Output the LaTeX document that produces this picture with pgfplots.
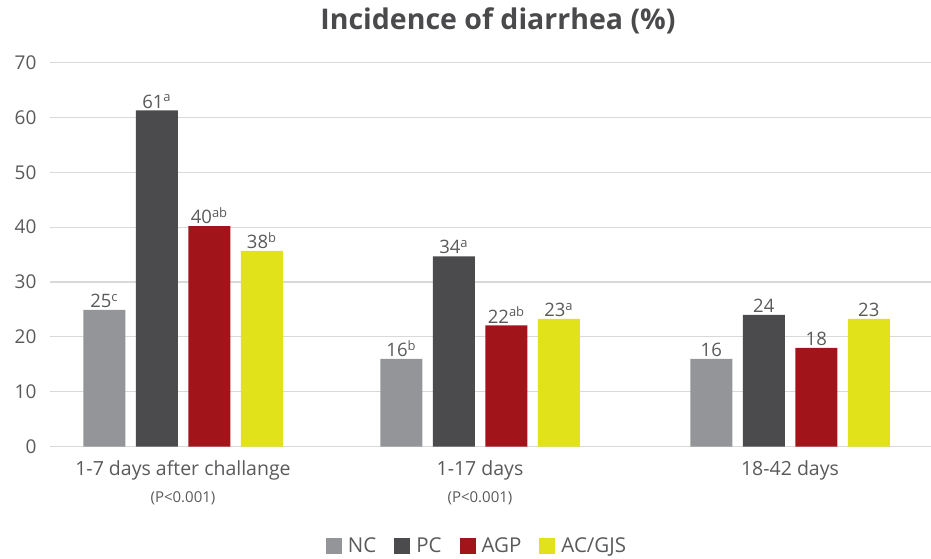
\documentclass[border=0pt]{standalone}
\usepackage{pgfplots}
\pgfplotsset{compat=1.18}
\usepackage{fontspec}
\setmainfont{Open Sans}
\definecolor{cNC}{HTML}{939598}
\definecolor{cPC}{HTML}{4B4B4D}
\definecolor{cAGP}{HTML}{A11419}
\definecolor{cAC}{HTML}{E1E219}
\definecolor{txt}{HTML}{595A5C}
\definecolor{ttl}{HTML}{4A4A4C}
\definecolor{gridc}{HTML}{D9D9D9}
\newcommand{\pfont}{\fontsize{15}{17}\selectfont}
\begin{document}
\begin{tikzpicture}
\useasboundingbox (0,0) rectangle (931pt,-559pt);
\begin{axis}[
 at={(50pt,-446.5pt)}, anchor=south west,
 scale only axis, width=881pt, height=383.8pt,
 xmin=50, xmax=931, ymin=0, ymax=70,
 ybar=10.5pt, bar width=42pt,
 ytick={0,10,...,70},
 ymajorgrids, grid style={gridc, line width=1.3pt},
 axis line style={draw=none},
 major tick length=0pt,
 xtick={183,480,790},
 xticklabels={{1-7 days after challange\\[4pt]{\pfont (P<0.001)}},{1-17 days\\[4pt]{\pfont (P<0.001)}},{18-42 days\\[4pt]\phantom{\pfont (P<0.001)}}},
 xticklabel style={align=center, font=\fontsize{19.5}{23}\selectfont, text=txt, anchor=north, yshift=-11pt},
 yticklabel style={font=\fontsize{19}{21}\selectfont, text=txt, xshift=-10pt},
 /pgf/number format/assume math mode=true,
 nodes near coords, point meta=explicit symbolic,
 nodes near coords style={font=\fontsize{18.5}{20}\selectfont, text=txt, inner sep=2pt},
 title={Incidence of diarrhea (\%)},
 title style={font=\bfseries\fontsize{28.5}{32}\selectfont, text=ttl, at={(0.5085,1)}, anchor=south, yshift=19pt},
 legend columns=4,
 legend style={at={(0.4847,-0.259)}, anchor=center, draw=none, fill=none, font=\fontsize{20.5}{23}\selectfont, text=txt,
   /tikz/every odd column/.append style={column sep=4pt},
   /tikz/every even column/.append style={column sep=16pt}},
 legend image code/.code={\fill[#1] (0pt,-8pt) rectangle (16pt,8pt);},
]
\addplot[fill=cNC, draw=none] coordinates {(183,24.9) [25\textsuperscript{c}] (480,16) [16\textsuperscript{b}] (790,16) [16]};
\addplot[fill=cPC, draw=none] coordinates {(183,61.3) [61\textsuperscript{a}] (480,34.7) [34\textsuperscript{a}] (790,24) [24]};
\addplot[fill=cAGP, draw=none] coordinates {(183,40.2) [40\textsuperscript{ab}] (480,22.1) [22\textsuperscript{ab}] (790,18) [18]};
\addplot[fill=cAC, draw=none] coordinates {(183,35.7) [38\textsuperscript{b}] (480,23.3) [23\textsuperscript{a}] (790,23.3) [23]};
\legend{NC,PC,AGP,AC/GJS}
\end{axis}
\end{tikzpicture}
\end{document}
